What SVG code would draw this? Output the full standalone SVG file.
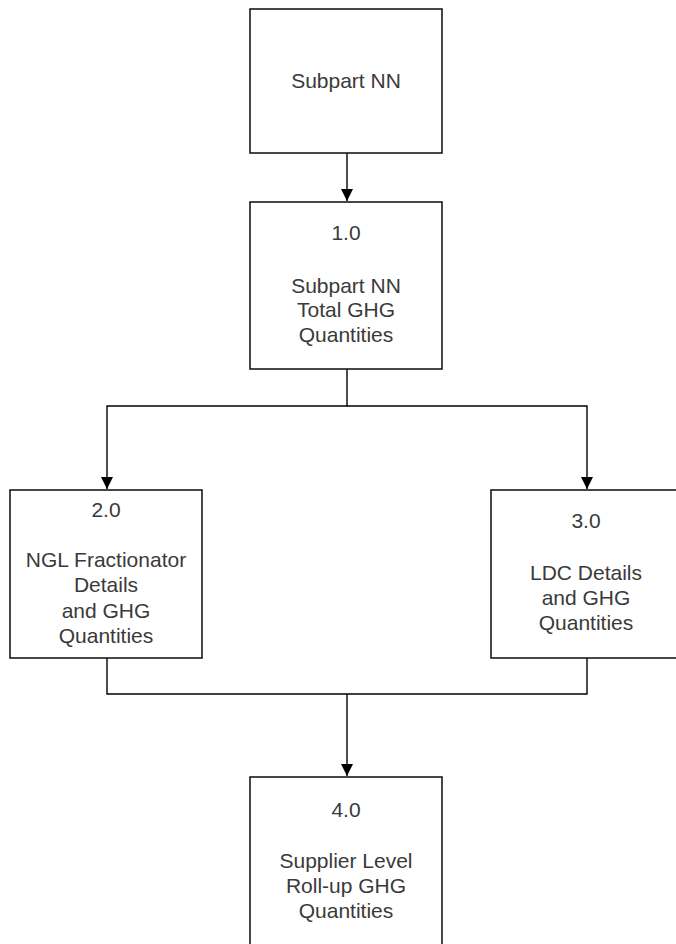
<svg xmlns="http://www.w3.org/2000/svg" width="676" height="944" viewBox="0 0 676 944">
<defs>
<style>
.box{fill:#fff;stroke:#1a1a1a;stroke-width:1.6}
.lbl{font-family:"Liberation Sans",Arial,sans-serif;font-size:21px;fill:#3a3a3a;text-anchor:middle}
.conn{fill:none;stroke:#000;stroke-width:1.4}
</style>
<marker id="arr" viewBox="0 0 12 12" refX="12" refY="6" markerWidth="12" markerHeight="12" markerUnits="userSpaceOnUse" orient="auto">
<path d="M0,0 L12,6 L0,12 Z" fill="#000"/>
</marker>
</defs>
<rect width="676" height="944" fill="#fff"/>
<g id="connectors">
<path class="conn" d="M347,153 V201" marker-end="url(#arr)"/>
<path class="conn" d="M347,369 V406 H107 V489" marker-end="url(#arr)"/>
<path class="conn" d="M347,406 H587 V489" marker-end="url(#arr)"/>
<path class="conn" d="M107,658 V694 H587 V658"/>
<path class="conn" d="M347,694 V776" marker-end="url(#arr)"/>
</g>
<g id="node-subpart">
<rect class="box" x="250" y="9" width="192" height="144"/>
<text class="lbl" x="346" y="88">Subpart NN</text>
</g>
<g id="node-1">
<rect class="box" x="250" y="202" width="192" height="167"/>
<text class="lbl" x="346" y="240">1.0</text>
<text class="lbl" x="346" y="293">Subpart NN</text>
<text class="lbl" x="346" y="317">Total GHG</text>
<text class="lbl" x="346" y="342">Quantities</text>
</g>
<g id="node-2">
<rect class="box" x="10" y="490" width="192" height="168"/>
<text class="lbl" x="106" y="517">2.0</text>
<text class="lbl" x="106" y="567">NGL Fractionator</text>
<text class="lbl" x="106" y="592">Details</text>
<text class="lbl" x="106" y="618">and GHG</text>
<text class="lbl" x="106" y="643">Quantities</text>
</g>
<g id="node-3">
<rect class="box" x="491" y="490" width="192" height="168"/>
<text class="lbl" x="586" y="528">3.0</text>
<text class="lbl" x="586" y="580">LDC Details</text>
<text class="lbl" x="586" y="605">and GHG</text>
<text class="lbl" x="586" y="630">Quantities</text>
</g>
<g id="node-4">
<rect class="box" x="250" y="777" width="192" height="170"/>
<text class="lbl" x="346" y="817">4.0</text>
<text class="lbl" x="346" y="868">Supplier Level</text>
<text class="lbl" x="346" y="893">Roll-up GHG</text>
<text class="lbl" x="346" y="918">Quantities</text>
</g>
</svg>
